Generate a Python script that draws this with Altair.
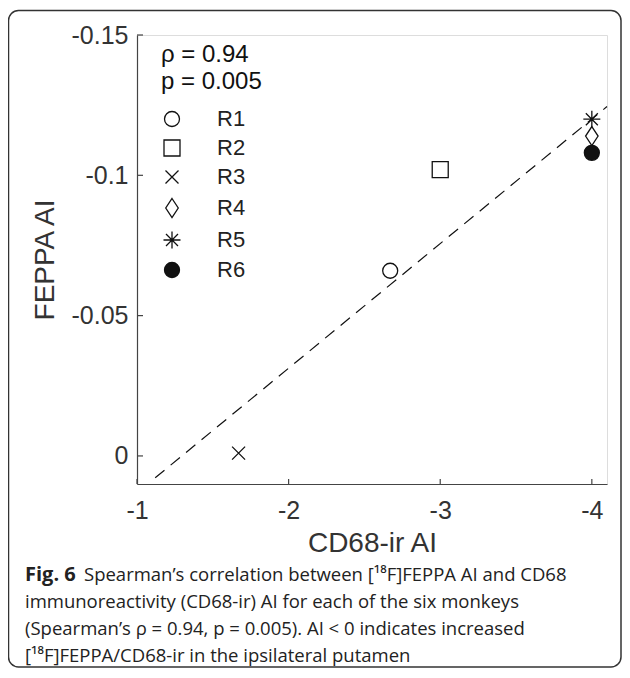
import altair as alt
import pandas as pd

# ---- data ----
series = ["R1", "R2", "R3", "R4", "R5", "R6"]
cd68_ai = [-2.67, -3.0, -1.67, -4.0, -4.0, -4.0]
feppa_ai = [-0.066, -0.102, -0.001, -0.114, -0.120, -0.108]

fit_x = [-1.12, -4.1]
fit_y = [0.0078, -0.1245]

x_ticks = [-1, -2, -3, -4]
y_ticks = [-0.15, -0.1, -0.05, 0]

shape_paths = [
    "M1.5,0A1.5,1.5,0,1,1,-1.5,0A1.5,1.5,0,1,1,1.5,0Z",
    "M-1.6,-1.6L1.6,-1.6L1.6,1.6L-1.6,1.6Z",
    "M-1.3,-1.3L1.3,1.3M-1.3,1.3L1.3,-1.3",
    "M0,-1.9L1.25,0L0,1.9L-1.25,0Z",
    "M0,-1.7L0,1.7M-1.7,0L1.7,0M-1.2,-1.2L1.2,1.2M-1.2,1.2L1.2,-1.2",
    "M1.5,0A1.5,1.5,0,1,1,-1.5,0A1.5,1.5,0,1,1,1.5,0Z",
]
fill_colors = ["transparent"] * 5 + ["#111111"]
stroke_colors = ["#111111"] * 6

legend_title = ["\u03c1 = 0.94", "p = 0.005"]

caption_bold = "Fig. 6"
caption_lines = [
    "Spearman\u2019s correlation between [\u00b9\u2078F]FEPPA AI and CD68",
    "immunoreactivity (CD68-ir) AI for each of the six monkeys",
    "(Spearman\u2019s \u03c1 = 0.94, p = 0.005). AI < 0 indicates increased",
    "[\u00b9\u2078F]FEPPA/CD68-ir in the ipsilateral putamen",
]

W, H = 470, 449
FONT = "Liberation Sans"
CAP_FONT = "Open Sans"

pts = pd.DataFrame({"series": series, "x": cd68_ai, "y": feppa_ai})
fit = pd.DataFrame({"x": fit_x, "y": fit_y})
xt = pd.DataFrame({"v": x_ticks})
yt = pd.DataFrame({"v": y_ticks})

xscale = alt.Scale(domain=[-4.1, -1], reverse=True, nice=False, zero=False)
yscale = alt.Scale(domain=[-0.15, 0.01], reverse=True, nice=False, zero=False)

lab_expr = "datum.value == 0 ? '0' : '' + datum.value"

xaxis = alt.Axis(
    values=x_ticks, title="CD68-ir AI", grid=False, ticks=False, tickSize=0,
    labelExpr=lab_expr, labelFont=FONT, labelFontSize=25, labelColor="#333333",
    labelPadding=26, labelBaseline="middle", labelFlush=False, labelOverlap=False,
    domainColor="#444444", domainWidth=1.2,
    titleFont=FONT, titleFontSize=28, titleFontWeight="normal", titleColor="#333333",
    titleX=W / 2, titleY=59, titleBaseline="middle", titleAlign="center",
)
yaxis = alt.Axis(
    values=y_ticks, title="FEPPA AI", grid=False, ticks=False, tickSize=0,
    labelExpr=lab_expr, labelFont=FONT, labelFontSize=25, labelColor="#333333",
    labelPadding=9, labelFlush=False, labelOverlap=False,
    domainColor="#444444", domainWidth=1.2,
    titleFont=FONT, titleFontSize=28, titleFontWeight="normal", titleColor="#333333",
    titleX=-92, titleY=H / 2, titleAngle=270, titleBaseline="middle", titleAlign="center",
)

leg = alt.Legend(
    title=legend_title, orient="none", legendX=24, legendY=8, padding=0,
    titleFont=FONT, titleFontSize=24, titleFontWeight="normal", titleColor="#111111",
    titleLineHeight=27, titlePadding=14,
    labelFont=FONT, labelFontSize=22, labelColor="#222222", labelOffset=34,
    rowPadding=7, symbolStrokeWidth=1.3, symbolOpacity=1,
)

line = alt.Chart(fit).mark_line(color="#111111", strokeWidth=1.2, strokeDash=[12, 8]).encode(
    x=alt.X("x:Q", scale=xscale, axis=xaxis),
    y=alt.Y("y:Q", scale=yscale, axis=yaxis),
)

points = alt.Chart(pts).mark_point(filled=True, strokeWidth=1.3, opacity=1, size=100).encode(
    x=alt.X("x:Q", scale=xscale),
    y=alt.Y("y:Q", scale=yscale),
    shape=alt.Shape("series:N", scale=alt.Scale(domain=series, range=shape_paths), legend=leg),
    fill=alt.Fill("series:N", scale=alt.Scale(domain=series, range=fill_colors), legend=leg),
    stroke=alt.Stroke("series:N", scale=alt.Scale(domain=series, range=stroke_colors), legend=leg),
)

yticks = alt.Chart(yt).mark_rule(color="#444444", strokeWidth=1.2).encode(
    y=alt.Y("v:Q", scale=yscale), x=alt.value(0), x2=alt.value(6)
)
xticks = alt.Chart(xt).mark_rule(color="#444444", strokeWidth=1.2).encode(
    x=alt.X("v:Q", scale=xscale), y=alt.value(H), y2=alt.value(H - 5)
)

one = pd.DataFrame({"k": [0]})
border = alt.Chart(one).mark_rect(
    fill="transparent", stroke="#333333", strokeWidth=1.5, cornerRadius=10
).encode(x=alt.value(-128.5), x2=alt.value(484), y=alt.value(-24.5), y2=alt.value(632))

cap_bold = alt.Chart(one).mark_text(
    text=caption_bold, font=CAP_FONT, fontSize=20, fontWeight="bold", align="left",
    baseline="middle", color="#222222"
).encode(x=alt.value(-112), y=alt.value(540))

cap_x = [-53, -112, -112, -112]
cap_y = [540, 567, 594, 621]
caps = []
for t, xp, yp in zip(caption_lines, cap_x, cap_y):
    caps.append(
        alt.Chart(one).mark_text(
            text=t, font=CAP_FONT, fontSize=18.5, align="left",
            baseline="middle", color="#222222"
        ).encode(x=alt.value(xp), y=alt.value(yp))
    )

chart = alt.layer(border, line, yticks, xticks, points, cap_bold, *caps).properties(
    width=W, height=H,
    autosize=alt.AutoSizeParams(type="none"),
    padding={"left": 129, "top": 27, "right": 15, "bottom": 184},
).configure_view(stroke=None).configure(background="white")

chart.save("out.html", embed_options={"renderer": "svg", "actions": False})
